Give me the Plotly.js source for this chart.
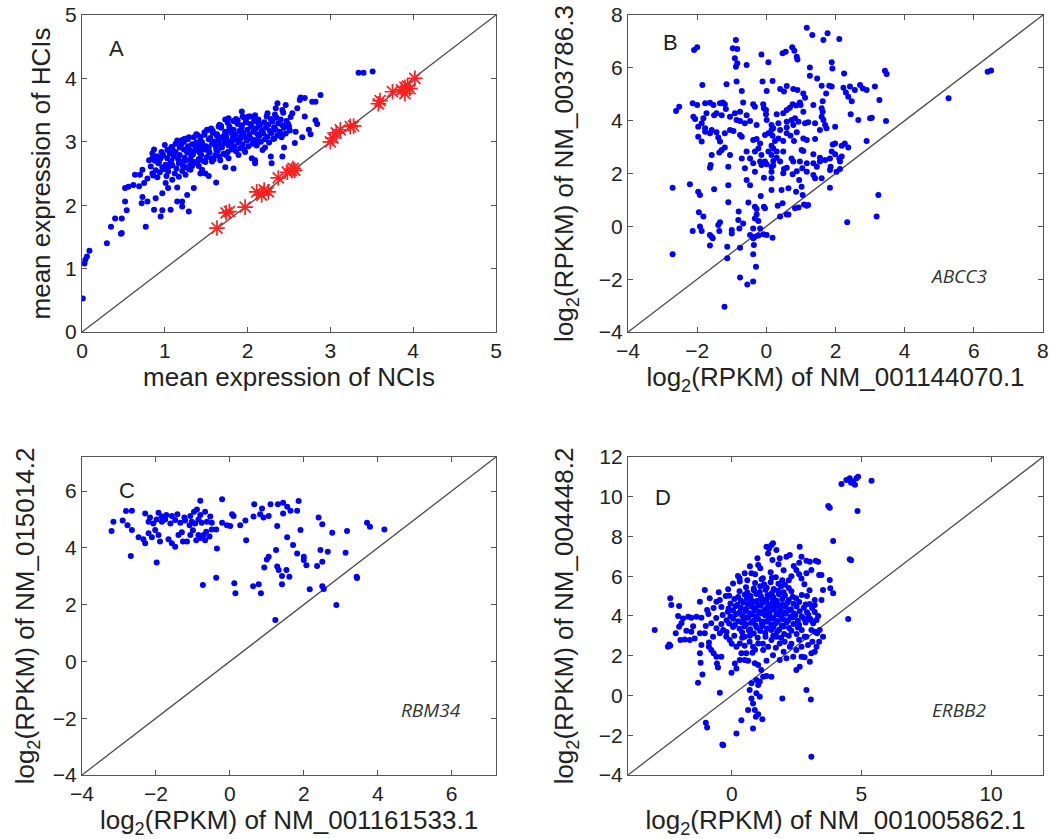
<!DOCTYPE html>
<html>
<head>
<meta charset="utf-8">
<script src="https://cdn.plot.ly/plotly-3.0.1.min.js"></script>
<style>html,body{margin:0;padding:0;background:#fff;}#chart{width:1050px;height:839px;}</style>
</head>
<body>
<div id="chart"></div>
<script>
// ---------------- Panel A : mean expression ----------------
const aX = [0.86,0.83,0.88,0.85,0.91,0.89,0.92,0.90,0.87,0.94,0.97,0.95,0.96,0.93,1.02,0.99,1.01,0.98,1.03,1.00,
1.04,1.07,1.05,1.06,1.03,1.08,1.12,1.09,1.11,1.10,1.13,1.08,1.14,1.17,1.16,1.13,1.18,1.15,
1.21,1.19,1.22,1.18,1.23,1.20,1.24,1.26,1.24,1.27,1.25,1.28,1.23,1.31,1.29,1.32,1.30,1.33,1.28,1.31,
1.36,1.34,1.37,1.35,1.33,1.38,1.36,1.41,1.39,1.42,1.40,1.43,1.38,1.41,1.46,1.44,1.47,1.45,1.43,1.48,1.46,
1.51,1.49,1.52,1.50,1.53,1.48,1.51,1.56,1.54,1.57,1.55,1.53,1.58,1.56,1.61,1.59,1.62,1.60,1.63,1.58,1.61,
1.66,1.64,1.67,1.65,1.63,1.68,1.66,1.71,1.69,1.72,1.70,1.73,1.68,1.71,1.76,1.74,1.77,1.75,1.73,1.78,1.76,1.74,
1.81,1.79,1.82,1.80,1.78,1.83,1.81,1.86,1.84,1.87,1.85,1.83,1.88,1.86,1.91,1.89,1.92,1.90,1.93,1.88,1.91,
1.96,1.94,1.97,1.95,1.93,1.98,1.96,2.01,1.99,2.02,2.00,2.03,1.98,2.06,2.04,2.07,2.05,2.08,2.03,
2.11,2.09,2.12,2.10,2.13,2.08,2.16,2.14,2.17,2.15,2.13,2.21,2.19,2.22,2.20,2.23,2.26,2.24,2.27,2.25,2.28,
2.31,2.29,2.32,2.30,2.33,2.36,2.34,2.37,2.35,2.41,2.39,2.42,2.40,2.43,2.46,2.44,2.47,2.51,2.49,2.52,
0.01,0.04,0.03,0.06,0.09,0.30,0.35,0.40,0.48,0.47,0.48,0.54,0.52,0.77,0.52,0.56,0.62,0.69,0.75,0.73,0.72,0.79,
0.87,0.89,0.95,0.97,0.97,1.04,1.07,1.15,1.15,1.21,1.21,1.27,1.29,1.35,1.43,1.49,1.53,1.62,1.73,1.83,
2.05,2.09,2.18,2.21,2.28,2.29,2.42,2.44,2.57,2.58,2.66,2.69,2.74,2.76,2.82,2.84,2.78,2.63,2.64,2.69,2.82,2.88,
2.54,2.60,2.46,2.42,2.34,2.36,2.24,2.09,1.93,1.94,1.77,0.81,0.85,0.91,0.73,0.70,0.64,0.79,0.85,1.05,1.09,
1.21,1.29,1.39,1.53,1.65,1.73,1.85,2.01,1.01,1.09,1.17,1.25,1.31,1.41,1.45,1.57,1.67,1.77,1.89,1.97,
2.13,2.32,2.42,2.50,2.09,3.34,3.40,3.51,1.76];
const aY = [2.47,2.61,2.70,2.82,2.44,2.55,2.66,2.77,2.88,2.52,2.60,2.74,2.84,2.68,2.46,2.57,2.64,2.79,2.87,2.95,
2.53,2.68,2.61,2.81,2.74,2.92,2.50,2.63,2.77,2.86,2.97,2.70,2.58,2.66,2.73,2.84,2.91,3.02,
2.54,2.69,2.62,2.79,2.88,2.96,3.05,2.60,2.75,2.83,2.70,2.93,3.00,2.64,2.57,2.78,2.87,2.96,3.04,2.72,
2.68,2.80,2.92,3.07,2.62,2.99,2.86,2.73,2.66,2.83,2.95,3.03,3.12,2.89,2.70,2.79,2.88,2.99,3.08,3.15,2.94,
2.76,2.68,2.86,2.93,3.04,3.11,3.19,2.74,2.83,2.97,3.06,2.90,3.14,3.21,2.79,2.72,2.88,3.00,3.09,3.17,2.94,
2.77,2.86,2.95,3.03,3.12,3.22,3.27,2.81,2.91,2.98,3.08,3.16,3.25,3.04,2.84,2.79,2.94,3.02,3.13,3.20,3.30,3.08,
2.88,2.97,3.06,3.14,3.24,3.33,3.01,2.85,2.93,3.03,3.11,3.19,3.28,3.36,2.90,2.99,3.09,3.17,3.26,3.34,3.05,
2.88,2.96,3.07,3.14,3.22,3.31,3.38,2.93,3.02,3.11,3.19,3.28,3.36,2.97,3.05,3.16,3.24,3.33,3.40,
2.94,3.03,3.12,3.21,3.29,3.37,3.00,3.09,3.18,3.26,3.35,3.04,3.13,3.22,3.31,3.40,2.99,3.08,3.17,3.27,3.36,
3.05,3.14,3.23,3.32,3.43,3.10,3.19,3.29,3.38,3.07,3.16,3.26,3.35,3.46,3.13,3.22,3.33,3.18,3.28,3.39,
0.53,1.14,1.08,1.19,1.28,1.40,1.66,1.79,1.56,1.55,1.79,1.92,2.06,1.66,2.27,2.29,2.32,2.30,2.35,2.13,2.03,2.06,
1.93,2.11,1.82,1.92,2.19,2.27,1.93,2.28,2.06,1.98,2.06,2.16,1.90,2.27,2.50,2.50,2.46,2.36,2.60,2.58,
2.74,2.71,2.87,2.91,2.77,2.66,2.77,2.91,2.98,3.16,3.07,3.40,3.19,3.12,3.34,3.28,3.63,3.66,3.70,3.69,3.63,3.74,
3.45,3.53,3.58,3.50,3.53,3.61,3.45,3.42,3.48,3.40,3.37,2.71,2.74,2.77,2.56,2.48,2.48,2.42,2.50,2.87,2.91,
3.03,3.07,3.11,3.19,3.24,3.35,3.32,3.40,2.35,2.40,2.45,2.48,2.56,2.62,2.56,2.69,2.71,2.74,2.79,2.84,
3.00,3.05,3.11,3.24,2.66,4.09,4.09,4.11,1.89];
const aStarX = [1.63,1.74,1.78,1.97,2.11,2.17,2.25,2.20,2.37,2.48,2.53,2.57,2.55,3.00,3.03,3.07,3.12,3.24,3.28,3.58,3.60,3.75,3.86,3.90,3.93,3.90,3.96,4.02];
const aStarY = [1.64,1.88,1.90,1.97,2.21,2.16,2.21,2.24,2.43,2.52,2.55,2.55,2.58,3.00,3.06,3.14,3.19,3.24,3.25,3.60,3.65,3.79,3.82,3.86,3.88,3.76,3.84,4.00];
const aDiag = [0, 5];

// ---------------- Panel B : ABCC3 ----------------
const bX = [1.17,1.33,1.77,1.65,2.11,-0.88,-2.00,-2.09,-0.97,-0.84,0.75,-0.14,0.47,0.56,0.81,0.88,0.90,-0.91,-0.84,-0.57,0.06,1.89,
-0.88,1.91,1.26,3.43,3.48,1.26,1.47,2.25,-0.11,0.18,-0.86,-1.85,-1.15,-0.71,0.01,0.40,0.51,0.59,0.78,0.90,1.07,1.60,1.82,1.89,
2.23,2.42,2.56,2.71,2.79,2.90,3.14,1.73,2.30,2.37,1.12,-2.61,-2.52,-2.13,-2.00,-1.77,-1.63,-1.53,-1.34,-1.26,-1.20,-1.17,-0.67,
-0.38,-0.33,-0.09,-0.07,-0.01,0.76,0.86,0.97,0.99,0.68,1.63,2.47,3.27,1.36,1.60,1.63,0.49,0.30,0.59,1.07,-1.73,-1.44,-0.91,-0.76,
-0.57,-0.01,2.44,3.00,3.05,3.46,-2.11,-2.06,-1.82,-1.51,-1.29,-1.05,-0.86,-0.76,-0.62,-0.47,-0.28,0.01,0.15,0.20,0.35,0.59,0.73,
0.83,0.93,1.12,1.21,1.41,1.60,1.65,1.70,1.74,1.99,2.66,0.78,0.59,0.40,0.15,-1.58,-1.77,-1.97,-1.87,-1.97,-1.87,-1.77,-1.63,-1.44,
-1.39,-1.34,-1.20,-1.05,-0.95,-0.76,-0.71,-0.38,-0.28,-0.18,-0.04,0.06,0.18,0.25,0.35,0.49,0.59,0.70,0.80,0.88,1.07,1.17,1.41,1.55,
1.92,1.99,2.18,2.27,2.37,2.90,-1.20,-1.29,0.15,0.20,0.30,-1.58,-1.36,-1.05,-0.71,-0.57,-0.47,-0.33,-0.23,-0.14,0.06,0.15,0.30,0.40,
0.49,0.73,1.02,1.07,1.36,1.55,1.84,1.99,2.11,2.13,1.86,2.18,-1.61,-1.63,-1.10,-0.62,-0.38,-0.18,-0.14,-0.04,0.01,0.15,0.20,0.78,
0.97,1.17,1.36,1.55,1.70,1.89,-0.57,-0.33,-0.07,0.15,0.15,0.20,0.51,0.59,0.76,0.88,0.95,1.04,1.17,1.36,1.41,1.46,1.60,1.84,2.03,
2.13,0.49,-2.71,-2.21,-1.97,-1.92,-1.51,-1.10,-0.47,-0.16,0.15,0.44,0.64,0.86,1.02,1.05,1.84,3.24,-1.10,-0.52,-0.33,-0.07,-0.04,
0.33,0.47,0.59,0.83,0.93,1.09,1.17,1.21,-1.95,-1.82,-0.80,-0.28,-0.28,3.19,-1.39,-1.34,-0.81,-0.33,-0.23,0.40,0.64,2.34,-2.13,
-1.92,-1.87,-1.63,-1.58,-1.55,-1.36,-1.00,-1.00,-0.78,-0.67,-0.38,-0.18,-0.47,-0.23,-0.09,0.01,0.18,-0.33,-1.63,-1.13,-0.76,
-0.38,-0.36,-2.71,-0.38,-1.13,-0.30,-0.76,-0.55,-0.38,-1.21,5.27,6.40,6.50];
const bY = [7.52,7.24,7.31,7.05,7.09,7.05,6.78,6.68,6.74,6.71,6.78,6.51,6.55,6.61,6.65,6.42,6.32,6.36,6.17,6.11,6.21,6.21,
6.04,5.98,6.01,5.89,5.77,5.70,5.60,5.79,5.48,5.50,5.48,5.35,5.38,5.12,5.12,5.20,5.10,5.31,5.20,5.16,5.03,5.32,5.32,5.29,
5.25,5.29,5.16,5.35,5.22,5.16,5.29,5.03,5.07,4.91,4.87,4.37,4.53,4.66,4.59,4.66,4.68,4.59,4.66,4.69,4.62,4.44,4.69,
4.62,4.53,4.62,4.47,4.40,4.62,4.57,4.69,4.59,4.49,4.74,4.74,4.78,4.59,4.47,4.34,4.28,4.24,4.40,4.34,4.28,4.28,4.28,4.34,
4.21,4.24,4.24,4.09,4.11,3.99,4.15,4.06,4.09,4.21,4.21,4.15,4.03,3.99,3.90,3.99,3.84,4.03,3.84,3.71,3.90,3.96,4.03,
4.09,3.96,3.90,3.94,3.90,4.15,4.03,3.84,3.71,3.77,4.03,3.84,3.74,3.65,3.65,3.65,3.71,3.77,3.90,3.39,3.21,3.58,3.52,3.56,
3.36,3.21,3.52,3.65,3.61,3.46,3.39,3.27,3.31,3.14,3.46,3.52,3.43,3.23,3.33,3.23,3.52,3.43,3.23,3.56,3.33,3.27,3.31,3.65,
3.10,3.14,3.05,3.14,2.98,3.23,2.98,2.89,3.05,2.95,2.83,2.70,2.80,2.70,2.57,2.83,2.57,2.83,2.95,2.70,2.83,2.70,2.60,2.45,
2.83,2.57,2.89,2.85,2.73,2.60,2.57,2.73,2.57,2.45,2.26,2.64,2.32,2.22,2.26,2.20,2.39,2.45,2.32,2.45,2.35,2.26,2.47,2.45,
2.45,2.39,2.39,2.45,2.51,2.83,1.75,2.07,1.84,2.07,1.82,2.30,2.17,2.22,1.97,2.09,1.75,2.20,2.07,1.94,1.82,2.26,1.82,2.13,2.07,
2.17,2.01,1.46,1.59,1.31,1.19,1.40,1.56,1.56,1.15,1.38,1.38,1.44,1.31,1.50,1.19,1.46,1.19,0.91,0.90,0.74,0.74,0.68,
0.78,0.87,0.45,0.68,0.71,0.83,0.78,0.81,0.53,0.37,0.56,0.66,0.45,0.37,0.05,0.15,0.24,0.30,0.20,0.37,0.45,0.15,-0.18,
-0.01,-0.18,-0.33,-0.39,-0.45,-0.18,-0.27,-0.14,-0.08,0.11,-0.08,-0.08,-0.33,-0.35,-0.30,-0.33,-0.43,-0.39,-0.73,-0.77,-0.81,
-0.45,-0.71,-1.06,-1.06,-1.21,-1.53,-1.94,-2.20,-2.09,-3.04,4.85,5.85,5.90];
const bDiag = [-4, 8];

// ---------------- Panel C : RBM34 ----------------
const cX = [-0.80,-0.21,0.66,0.87,1.10,1.30,1.44,1.55,1.86,-2.81,-2.65,-2.29,-2.16,-1.93,-1.84,-1.72,-1.57,-1.42,-1.23,-1.07,
-0.97,-0.89,-0.80,-0.67,-0.53,0.06,0.10,0.64,0.82,0.91,1.05,1.44,1.64,1.82,2.40,-3.15,-2.90,-2.77,-2.65,-2.20,-2.07,-1.98,
-1.84,-1.75,-1.61,-1.48,-1.34,-1.21,-1.09,-1.03,-0.94,-0.85,-0.76,-0.62,-0.49,-0.37,-0.21,-0.08,0.01,0.28,0.42,1.28,1.91,
2.50,2.77,3.17,3.71,3.79,4.18,-3.20,-2.47,-2.34,-2.29,-2.20,-2.11,-2.02,-1.93,-1.89,-1.66,-1.57,-1.48,-1.39,-1.27,-1.16,
-1.07,-0.91,-0.85,-0.71,-0.67,-0.64,-0.49,0.44,1.55,1.71,-2.68,-1.98,-0.35,1.25,1.05,1.00,0.93,1.28,1.32,1.53,1.41,1.61,
1.41,1.82,2.00,2.00,2.07,2.36,2.45,2.50,2.65,3.13,-0.37,-0.73,0.12,0.15,0.63,0.78,0.84,2.16,2.50,2.54,3.43,3.44,2.88,1.23,
-1.00,-0.55,-0.80,-1.30];
const cY = [5.66,5.71,5.54,5.39,5.54,5.54,5.59,5.45,5.65,5.30,5.31,5.21,5.07,5.24,5.10,5.16,5.12,5.18,5.07,5.12,
5.27,5.35,5.16,5.27,5.10,5.18,5.12,5.10,5.18,5.07,5.12,5.21,5.31,5.31,5.07,4.92,4.96,4.80,4.63,4.92,4.86,5.00,
4.92,5.00,4.86,4.98,4.88,4.96,4.80,4.92,4.86,5.00,4.88,4.92,4.88,4.65,4.88,4.80,4.77,4.80,4.96,4.77,4.63,
4.83,4.53,4.59,4.88,4.74,4.65,4.59,4.37,4.30,4.16,4.51,4.37,4.63,4.45,4.22,4.30,4.16,4.04,4.45,4.22,4.22,
4.45,4.27,4.45,4.45,4.27,4.57,4.65,4.27,4.37,4.10,3.71,3.48,3.98,3.92,3.69,3.59,3.31,3.34,3.22,3.22,3.01,2.98,
2.72,3.80,3.69,3.57,3.39,3.36,3.92,3.51,3.86,3.83,2.95,2.69,2.75,2.40,2.65,2.72,2.40,2.54,2.65,2.55,2.98,2.94,1.99,1.46,
4.62,4.40,4.35,4.55];
const cDiag = [-4, 7.2];

// ---------------- Panel D : ERBB2 ----------------
const dX = [
0.40,0.66,0.85,1.10,1.29,1.52,1.75,2.02,2.30,
0.05,0.30,0.49,0.71,0.97,1.18,1.36,1.61,1.83,2.00,2.21,2.55,
-0.10,0.12,0.38,0.55,0.75,0.92,1.16,1.33,1.52,1.70,1.93,2.12,2.38,2.60,2.85,
-0.20,0.06,0.25,0.47,0.63,0.85,1.02,1.20,1.42,1.60,1.78,1.98,2.18,2.35,2.55,2.80,3.05,
-0.35,-0.05,0.17,0.40,0.56,0.78,0.95,1.15,1.30,1.50,1.72,1.90,2.08,2.27,2.45,2.70,2.95,
-0.15,0.05,0.30,0.52,0.70,0.88,1.07,1.25,1.45,1.62,1.82,2.00,2.20,2.40,2.62,2.90,
-0.40,-0.12,0.14,0.35,0.55,0.77,0.93,1.12,1.33,1.52,1.70,1.88,2.08,2.28,2.50,2.78,
-0.05,0.22,0.45,0.62,0.83,1.02,1.20,1.40,1.58,1.77,1.97,2.15,2.38,2.60,2.85,
0.10,0.35,0.58,0.75,0.97,1.15,1.34,1.55,1.73,1.95,2.20,2.48,
-0.10,0.25,0.50,0.72,0.95,1.13,1.38,1.60,1.82,2.05,2.35,2.70,
0.30,0.60,0.85,1.08,1.30,1.55,1.78,2.00,2.30,
0.55,0.85,1.10,1.35,1.62,1.90,2.20,
0.90,1.25,1.50,1.80,2.05,
1.15,1.55,1.95,
4.23,4.42,4.55,4.68,4.81,4.75,4.87,5.39,4.60,4.85,3.72,3.78,3.91,4.55,4.60,4.49,3.07,-0.36,-2.97,
-2.46,-2.41,-2.37,-2.37,-2.33,-2.03,-2.07,-1.88,-1.68,-1.56,-1.36,-1.17,-2.16,-1.98,-1.81,-1.62,-1.43,-2.03,-1.75,-1.56,-1.23,-1.04,-1.94,-1.49,
-1.23,-1.04,-0.95,-0.85,-1.17,-1.23,-1.20,-1.13,-1.30,-0.88,-0.79,-0.70,-0.59,-0.57,-0.53,-0.40,-0.46,-1.00,-0.95,-0.33,0.18,0.37,0.63,
0.82,0.93,1.18,0.69,0.76,0.82,0.95,1.02,1.08,1.21,1.34,1.53,1.14,0.89,1.02,0.95,0.76,1.08,0.89,1.02,1.95,2.88,3.05,2.49,2.81,3.01,
2.69,2.37,2.11,1.85,1.59,1.34,0.63,0.50,0.31,0.12,-0.01,0.18,0.37,0.56,0.80,
3.52,3.27,3.37,3.20,3.07,2.94,3.11,2.88,3.39,3.29,3.20,3.07,3.01,3.27,3.14,3.33,3.20,3.46,3.20,3.52,3.78,3.91,3.80,3.37,3.46,3.33,
3.24,3.01,3.07,2.88,2.69,2.62,2.69,2.88,2.60,2.39,2.49,2.24,2.11,1.85,1.72,1.53,1.59,1.44,1.34,1.40,1.57,0.99,1.02,0.76,0.50,0.24,
0.31,0.05,-0.14,-0.23,-0.46,-0.59,
2.62,2.81,2.69,2.49,2.24,2.04,1.85,1.72,1.53,1.40,1.21,1.02,0.82,0.69,0.50,0.31,0.18,-0.08,-0.21,-0.46,-0.72,-0.88,-0.79,-0.59,-0.33,
0.30,0.60,0.90,1.20,1.50,1.70,2.00,2.30,2.60,1.10,1.80,0.70,2.20,2.80,3.00,2.90,3.10,3.20,3.00,-0.50,-0.70,-0.90,-0.60,-0.40,-1.00,
-0.20,0.10,0.40,0.70,1.00,1.30,1.60,1.90,2.20,2.50,2.70,0.00,0.50,0.90,1.20,1.70,2.00,2.30,2.60];
const dY = [
3.18,3.27,3.12,3.24,3.15,3.29,3.21,3.10,3.26,
3.45,3.36,3.48,3.33,3.41,3.50,3.37,3.44,3.31,3.47,3.39,3.42,
3.62,3.55,3.68,3.58,3.66,3.53,3.63,3.71,3.57,3.64,3.52,3.69,3.60,3.55,3.67,
3.79,3.86,3.74,3.83,3.91,3.77,3.85,3.72,3.81,3.88,3.75,3.84,3.79,3.93,3.76,3.85,3.80,
4.05,3.97,4.09,4.01,3.94,4.07,3.99,4.12,4.03,3.95,4.08,4.00,4.11,3.96,4.04,3.98,4.06,
4.21,4.28,4.17,4.25,4.14,4.29,4.20,4.26,4.15,4.31,4.22,4.18,4.27,4.13,4.24,4.19,
4.45,4.38,4.49,4.41,4.35,4.47,4.40,4.52,4.36,4.44,4.50,4.39,4.46,4.34,4.48,4.42,
4.63,4.57,4.68,4.60,4.71,4.55,4.66,4.59,4.69,4.62,4.56,4.67,4.61,4.70,4.58,
4.85,4.78,4.90,4.81,4.75,4.88,4.83,4.92,4.77,4.86,4.80,4.89,
5.02,4.96,5.08,5.00,5.11,4.98,5.06,4.94,5.09,5.03,4.97,5.05,
5.25,5.18,5.29,5.21,5.32,5.16,5.27,5.20,5.24,
5.45,5.38,5.50,5.42,5.36,5.48,5.41,
5.66,5.59,5.70,5.62,5.57,
5.85,5.92,5.80,
10.64,10.84,10.93,10.76,10.93,10.60,11.01,10.81,10.70,9.28,9.53,9.45,7.77,6.85,6.80,3.85,-3.08,-2.46,3.30,
2.45,2.56,2.50,4.89,4.55,4.50,4.00,3.88,3.96,3.91,3.96,3.91,3.13,2.79,2.82,2.79,2.87,3.46,3.26,3.21,3.13,3.13,3.63,3.49,
4.72,5.31,4.30,4.89,2.54,2.12,1.65,1.06,0.64,2.66,2.29,2.12,1.95,1.61,1.41,1.95,0.14,-1.37,-1.61,-2.50,-1.91,-1.24,-0.73,
-1.66,-1.07,-1.20,0.27,-0.15,-0.40,0.11,0.53,0.69,0.94,0.98,0.94,1.28,1.62,1.53,0.78,0.61,-0.06,-0.73,-0.94,-0.15,0.27,-0.20,1.28,1.92,1.70,
1.95,1.95,1.87,1.78,2.03,1.75,1.75,1.78,1.78,1.61,1.15,1.36,2.12,2.12,2.15,
2.96,2.45,2.71,2.20,2.12,2.54,2.71,2.96,3.29,3.13,3.21,3.29,3.88,3.80,3.63,4.00,4.80,4.80,4.55,5.31,5.81,5.14,5.39,6.06,6.06,6.73,
6.78,6.73,6.31,6.15,5.89,7.49,6.98,6.78,6.68,6.51,6.31,7.07,6.98,6.90,7.32,7.57,7.66,7.40,7.49,7.15,6.82,6.90,6.57,6.15,6.15,6.01,
5.73,5.64,5.34,5.00,4.80,4.72,
1.45,2.96,2.45,2.29,2.45,2.71,2.62,2.96,2.79,2.45,2.29,2.62,2.45,2.71,2.96,2.62,2.45,2.79,2.96,3.13,2.96,2.45,3.63,3.38,3.29,
5.90,5.80,6.10,5.90,6.20,5.95,6.30,6.00,6.10,6.40,6.60,6.50,5.80,5.60,5.30,5.00,4.40,4.20,4.60,5.20,4.40,4.10,3.90,3.60,3.50,
3.20,3.00,2.90,3.00,2.90,2.95,3.00,2.90,3.00,3.10,3.30,2.60,2.50,2.30,2.60,2.40,2.20,2.60,2.80];
const dDiag = [-4, 12];

// ---------------- tick labels ----------------
const aTicks = [0, 1, 2, 3, 4, 5];
const bTicks = [-4, -2, 0, 2, 4, 6, 8];
const cTicks = [-4, -2, 0, 2, 4, 6];
const dXTicks = [0, 5, 10];
const dYTicks = [-4, -2, 0, 2, 4, 6, 8, 10, 12];

const blue = '#0000ff';
const dotStyle = {size: 6, color: blue};
const lineStyle = {color: '#4a4a4a', width: 1.3};

const traces = [
  {x: aDiag, y: aDiag, xaxis: 'x', yaxis: 'y', mode: 'lines', line: lineStyle, hoverinfo: 'skip'},
  {x: aX, y: aY, xaxis: 'x', yaxis: 'y', mode: 'markers', marker: dotStyle, name: 'genes'},
  {x: aStarX, y: aStarY, xaxis: 'x', yaxis: 'y', mode: 'markers', name: 'selected',
   marker: {symbol: 'asterisk-open', size: 13, color: '#ff2020', line: {color: '#ff2020', width: 1.7}}},
  {x: bDiag, y: bDiag, xaxis: 'x2', yaxis: 'y2', mode: 'lines', line: lineStyle, hoverinfo: 'skip'},
  {x: bX, y: bY, xaxis: 'x2', yaxis: 'y2', mode: 'markers', marker: dotStyle, name: 'ABCC3'},
  {x: cDiag, y: cDiag, xaxis: 'x3', yaxis: 'y3', mode: 'lines', line: lineStyle, hoverinfo: 'skip'},
  {x: cX, y: cY, xaxis: 'x3', yaxis: 'y3', mode: 'markers', marker: dotStyle, name: 'RBM34'},
  {x: dDiag, y: dDiag, xaxis: 'x4', yaxis: 'y4', mode: 'lines', line: lineStyle, hoverinfo: 'skip'},
  {x: dX, y: dY, xaxis: 'x4', yaxis: 'y4', mode: 'markers', marker: dotStyle, name: 'ERBB2'}
];

const axisBase = {
  showline: true, mirror: 'ticks', linecolor: '#555', linewidth: 1.2,
  ticks: 'inside', ticklen: 5, tickcolor: '#555', tickwidth: 1,
  showgrid: false, zeroline: false, automargin: false,
  tickfont: {size: 21, color: '#222'}, fixedrange: true
};
function ax(extra) { return Object.assign({}, axisBase, extra); }
const titleFont = {size: 26, color: '#222'};
const letterFont = {size: 22, color: '#222'};
const geneFont = {size: 19, color: '#333', family: '"Open Sans", "Noto Sans", sans-serif'};

const layout = {
  width: 1050, height: 839,
  margin: {l: 0, r: 0, t: 0, b: 0},
  showlegend: false,
  paper_bgcolor: '#ffffff', plot_bgcolor: '#ffffff',
  font: {family: '"Liberation Sans", Arial, Helvetica, sans-serif', color: '#222'},
  xaxis: ax({domain: [0.0781, 0.4724], range: [0, 5], tickvals: aTicks, anchor: 'y',
    title: {text: 'mean expression of NCIs', font: titleFont, standoff: 1}}),
  yaxis: ax({domain: [0.6043, 0.9821], range: [0, 5], tickvals: aTicks, anchor: 'x',
    title: {text: 'mean expression of HCIs', font: titleFont, standoff: 6}}),
  xaxis2: ax({domain: [0.5981, 0.9933], range: [-4, 8], tickvals: bTicks, anchor: 'y2',
    title: {text: 'log<sub>2</sub>(RPKM) of NM_001144070.1', font: titleFont, standoff: 1}}),
  yaxis2: ax({domain: [0.6043, 0.9821], range: [-4, 8], tickvals: bTicks, anchor: 'x2',
    title: {text: 'log<sub>2</sub>(RPKM) of NM_003786.3', font: titleFont, standoff: 17}}),
  xaxis3: ax({domain: [0.0781, 0.4724], range: [-4, 7.2], tickvals: cTicks, anchor: 'y3',
    title: {text: 'log<sub>2</sub>(RPKM) of NM_001161533.1', font: titleFont, standoff: 2}}),
  yaxis3: ax({domain: [0.0763, 0.4553], range: [-4, 7.2], tickvals: cTicks, anchor: 'x3',
    title: {text: 'log<sub>2</sub>(RPKM) of NM_015014.2', font: titleFont, standoff: 10}}),
  xaxis4: ax({domain: [0.5981, 0.9933], range: [-4, 12], tickvals: dXTicks, anchor: 'y4',
    title: {text: 'log<sub>2</sub>(RPKM) of NM_001005862.1', font: titleFont, standoff: 2}}),
  yaxis4: ax({domain: [0.0763, 0.4553], range: [-4, 12], tickvals: dYTicks, anchor: 'x4',
    title: {text: 'log<sub>2</sub>(RPKM) of NM_004448.2', font: titleFont, standoff: 17}}),
  annotations: [
    {text: 'A', xref: 'paper', yref: 'paper', x: 0.1105, y: 0.9416, xanchor: 'center', yanchor: 'middle', showarrow: false, font: letterFont},
    {text: 'B', xref: 'paper', yref: 'paper', x: 0.6390, y: 0.9499, xanchor: 'center', yanchor: 'middle', showarrow: false, font: letterFont},
    {text: 'C', xref: 'paper', yref: 'paper', x: 0.1210, y: 0.4148, xanchor: 'center', yanchor: 'middle', showarrow: false, font: letterFont},
    {text: 'D', xref: 'paper', yref: 'paper', x: 0.6314, y: 0.4076, xanchor: 'center', yanchor: 'middle', showarrow: false, font: letterFont},
    {text: '<i>ABCC3</i>', xref: 'paper', yref: 'paper', x: 0.9133, y: 0.6710, xanchor: 'center', yanchor: 'middle', showarrow: false, font: geneFont},
    {text: '<i>RBM34</i>', xref: 'paper', yref: 'paper', x: 0.4105, y: 0.1538, xanchor: 'center', yanchor: 'middle', showarrow: false, font: geneFont},
    {text: '<i>ERBB2</i>', xref: 'paper', yref: 'paper', x: 0.9133, y: 0.1538, xanchor: 'center', yanchor: 'middle', showarrow: false, font: geneFont}
  ]
};

Plotly.newPlot('chart', traces, layout, {displayModeBar: false, staticPlot: true});
</script>
</body>
</html>
